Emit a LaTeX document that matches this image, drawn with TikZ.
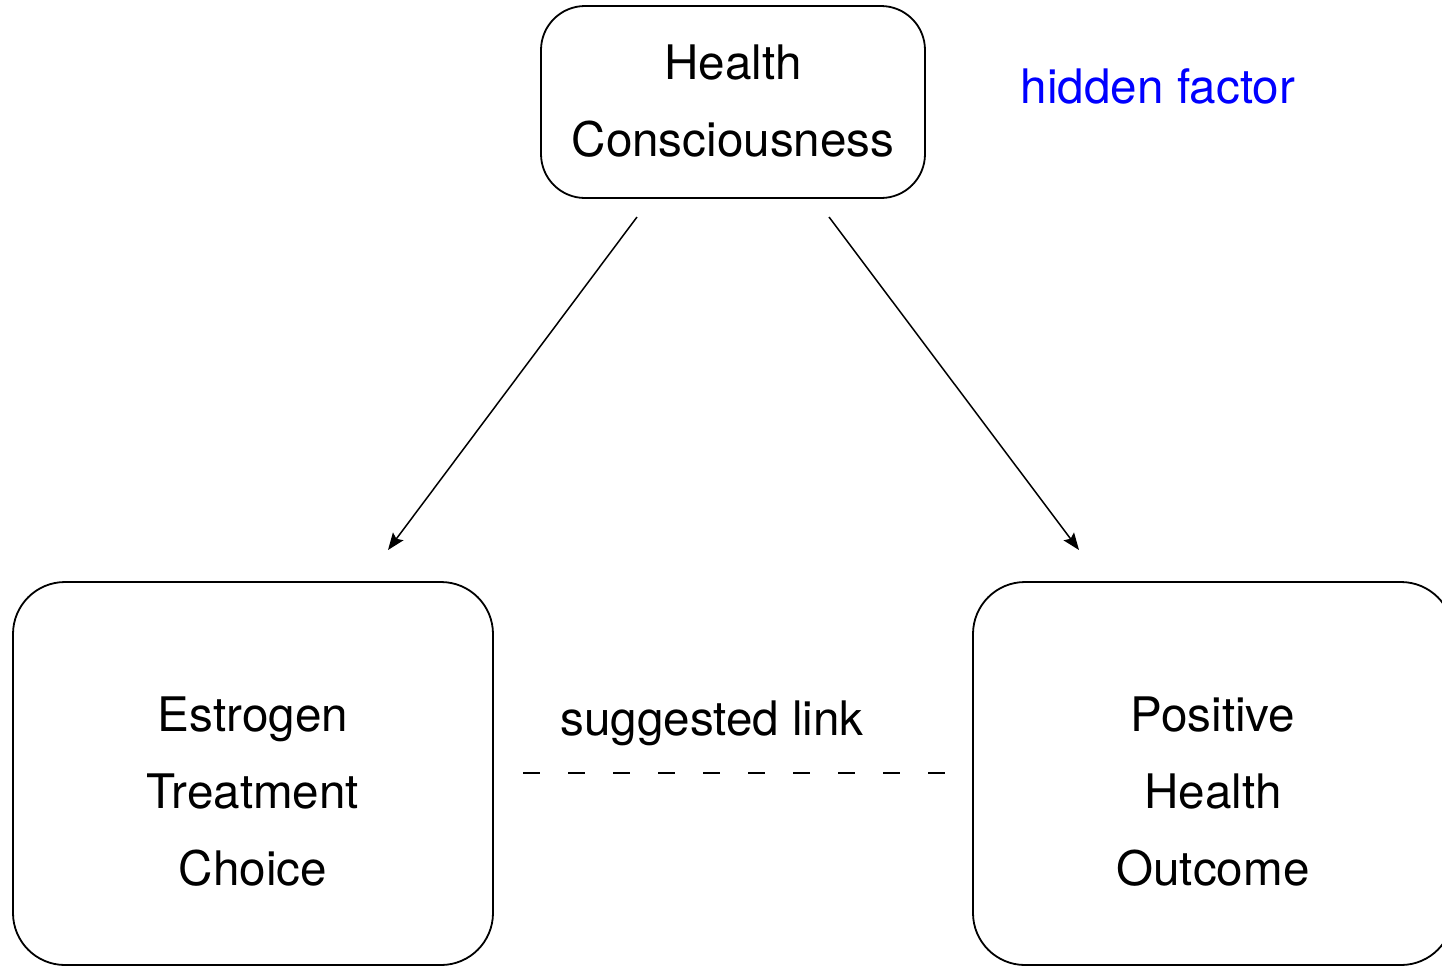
\documentclass[tikz,border=0pt]{standalone}
\usepackage{fontspec}
\setmainfont{TeX Gyre Heros}
\usepackage{xcolor}
\usetikzlibrary{arrows.meta}

\begin{document}
\begin{tikzpicture}[x=0.5pt,y=-0.5pt,
    factor/.style={draw,line width=0.9pt,rounded corners=#1},
    factor/.default=26pt,
    lbl/.style={align=center,font=\fontsize{23.8}{38.5}\selectfont},
    cause/.style={line width=0.75pt,-{Stealth[length=8.5pt,width=6.5pt,inset=1.5pt]}}]
  \useasboundingbox (0,0) rectangle (1442,966);
  % hidden factor on top
  \node[factor=22pt,minimum width=192pt,minimum height=96pt] (hc) at (733,102) {};
  \node[lbl] (hcT) at (733,101) {Health\\Consciousness};
  \node[lbl,text=blue] (hidden) at (1158,86) {hidden factor};
  % the two observed variables
  \node[factor,minimum width=240pt,minimum height=191.5pt] (est) at (253,773.5) {};
  \node[lbl] (estT) at (253,792) {Estrogen\\Treatment\\Choice};
  \node[factor,minimum width=240pt,minimum height=191.5pt] (pos) at (1213,773.5) {};
  \node[lbl] (posT) at (1213,792) {Positive\\Health\\Outcome};
  % arrows from the hidden factor
  \coordinate (hcL) at (637,217);
  \coordinate (hcR) at (829,217);
  \coordinate (estIn) at (388,550);
  \coordinate (posIn) at (1079,550);
  \draw[cause] (hcL) -- (estIn);
  \draw[cause] (hcR) -- (posIn);
  % suggested (spurious) link
  \coordinate (linkL) at (523,773);
  \coordinate (linkR) at (945,773);
  \draw[line width=0.7pt,dash pattern=on 8.5pt off 14pt] (linkL) -- (linkR);
  \node[lbl] (sugg) at (712,723) {suggested link};
\end{tikzpicture}
\end{document}
